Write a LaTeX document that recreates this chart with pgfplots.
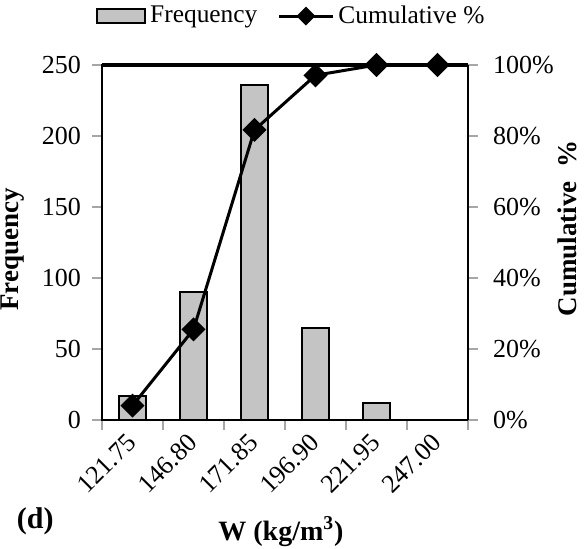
\documentclass[border=0pt]{standalone}
\usepackage{fontspec}
\setmainfont{Liberation Serif}
\usepackage{pgfplots}
\pgfplotsset{compat=1.18}
\pgfplotsset{/pgf/number format/assume math mode=true}
\definecolor{barfill}{HTML}{C4C4C4}
\pgfplotsset{
  barlegend/.style={legend image code/.code={\draw[##1] (0pt,-3.5pt) rectangle (24pt,3.5pt);}},
  linelegend/.style={legend image code/.code={\draw[##1, mark repeat=2, mark phase=2] plot coordinates {(0pt,0pt) (13.5pt,0pt) (27pt,0pt)};}},
}
\begin{document}
\begin{tikzpicture}[font=\fontsize{12.7}{15}\selectfont]
\begin{axis}[
  at={(0,0)}, anchor=south west,
  width=183pt, height=177.5pt, scale only axis,
  xmin=-0.5, xmax=5.5, ymin=0, ymax=250,
  ytick={0,50,...,250},
  ytick pos=left, xtick pos=lower,
  tick label style={font=\fontsize{13}{15}\selectfont},
  yticklabel style={xshift=-2pt},
  xtick={-0.5,0.5,...,5.5}, xticklabels={},
  extra x ticks={0,1,2,3,4,5},
  extra x tick labels={121.75,146.80,171.85,196.90,221.95,247.00},
  extra x tick style={major tick length=0pt, tick label style={xshift=-3.5pt, yshift=-1pt, rotate=45, anchor=north east}},
  tick align=outside, major tick length=5pt,
  tick style={gray!70, line width=0.7pt},
  axis line style={black, line width=0.7pt},
  ylabel={\textbf{Frequency}},
  ylabel style={at={(axis description cs:-0.243,0.48)}, anchor=center, font=\fontsize{13.5}{15}\selectfont},
  xlabel={\textbf{W (kg/m\textsuperscript{3})}},
  xlabel style={at={(axis description cs:0.489,-0.315)}, anchor=center, font=\fontsize{14}{16}\selectfont},
  legend style={at={(0.52,1.085)}, anchor=south, draw=none, fill=none, legend columns=2,
    /tikz/every even column/.append style={column sep=8pt}},
  clip=false,
]
\addplot[ybar, bar width=0.43, fill=barfill, draw=black, line width=1pt, barlegend]
  coordinates {(0,17) (1,90) (2,236) (3,65) (4,12) (5,0)};
\addlegendentry{Frequency}
\addlegendimage{black, line width=1.5pt, mark=square*, mark size=2.6pt, mark options={rotate=45}, linelegend}
\addlegendentry{Cumulative \%}
\draw[black, line width=2pt] (rel axis cs:0,1) -- (rel axis cs:1,1);
\node[anchor=west, font=\fontsize{15}{17}\selectfont\bfseries] at (axis description cs:-0.252,-0.285) {(d)};
\end{axis}
\begin{axis}[
  at={(0,0)}, anchor=south west,
  width=183pt, height=177.5pt, scale only axis,
  xmin=-0.5, xmax=5.5, ymin=0, ymax=100,
  axis y line*=right, axis x line=none,
  ytick={0,20,...,100},
  yticklabel={\pgfmathprintnumber{\tick}\%},
  tick label style={font=\fontsize{13}{15}\selectfont},
  yticklabel style={xshift=4pt},
  tick align=outside, major tick length=5pt,
  tick style={gray!70, line width=0.7pt},
  axis line style={black, line width=0.7pt},
  ylabel={\textbf{Cumulative \ \%}},
  ylabel style={at={(axis description cs:1.27,0.54)}, anchor=center, font=\fontsize{13.5}{15}\selectfont},
  clip=false,
]
\addplot[black, line width=1.5pt, mark=square*, mark size=3.5pt, mark options={rotate=45}]
  coordinates {(0,4.05) (1,25.5) (2,81.7) (3,97.1) (4,100) (5,100)};
\end{axis}
\pgfresetboundingbox
\path[use as bounding box] (-51pt,-64.5pt) rectangle (243pt,210pt);
\end{tikzpicture}
\end{document}
